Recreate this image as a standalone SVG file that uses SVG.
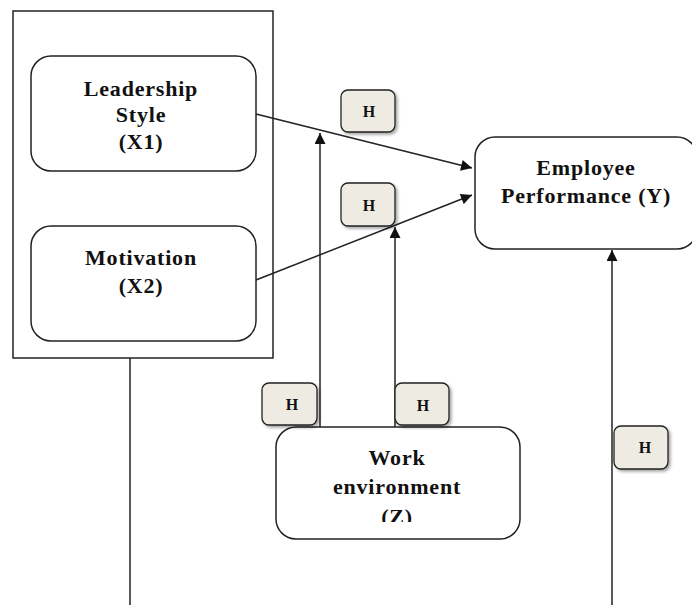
<svg xmlns="http://www.w3.org/2000/svg" width="692" height="605" viewBox="0 0 692 605">
<defs>
<style>
.box{fill:#fff;stroke:#222;stroke-width:1.5}
.hb{fill:#eeebe3;stroke:#222;stroke-width:1.3;filter:url(#sh)}
.t{font-family:"Liberation Serif",serif;font-weight:bold;font-size:22px;letter-spacing:0.8px;fill:#111;text-anchor:middle}
.h{font-family:"Liberation Serif",serif;font-weight:bold;font-size:16px;fill:#111;text-anchor:middle}
.ln{stroke:#222;stroke-width:1.5;fill:none}
</style>
<marker id="ah" viewBox="0 0 10 10" refX="10" refY="5" markerWidth="12" markerHeight="11" markerUnits="userSpaceOnUse" orient="auto">
<path d="M0,0 L10,5 L0,10 z" fill="#111"/>
</marker>
<filter id="sh" x="-20%" y="-20%" width="150%" height="150%">
<feDropShadow dx="2" dy="2" stdDeviation="1.5" flood-color="#000" flood-opacity="0.35"/>
</filter>
<clipPath id="wclip"><rect x="276" y="427" width="244" height="95"/></clipPath>
</defs>
<rect width="692" height="605" fill="#fff"/>
<g id="connectors">
<line class="ln" x1="256" y1="114" x2="472" y2="168" marker-end="url(#ah)"/>
<line class="ln" x1="256" y1="280" x2="472" y2="195" marker-end="url(#ah)"/>
<line class="ln" x1="320" y1="427" x2="320" y2="133" marker-end="url(#ah)"/>
<line class="ln" x1="395" y1="427" x2="395" y2="227" marker-end="url(#ah)"/>
<line class="ln" x1="612" y1="605" x2="612" y2="250" marker-end="url(#ah)"/>
<line class="ln" x1="130" y1="358" x2="130" y2="605"/>
</g>
<g id="group-x">
<rect x="13" y="11" width="260" height="347" fill="none" stroke="#222" stroke-width="1.5"/>
</g>
<g id="leadership">
<rect class="box" x="31" y="56" width="225" height="115" rx="20"/>
<text class="t" x="141" y="96">Leadership</text>
<text class="t" x="141" y="122">Style</text>
<text class="t" x="141" y="149">(X1)</text>
</g>
<g id="motivation">
<rect class="box" x="31" y="226" width="225" height="115" rx="20"/>
<text class="t" x="141" y="265">Motivation</text>
<text class="t" x="141" y="293">(X2)</text>
</g>
<g id="employee">
<rect class="box" x="475" y="137" width="222" height="112" rx="20"/>
<text class="t" x="586" y="175">Employee</text>
<text class="t" x="586" y="203">Performance (Y)</text>
</g>
<g id="work">
<rect class="box" x="276" y="427" width="244" height="112" rx="20"/>
<g clip-path="url(#wclip)">
<text class="t" x="397" y="465">Work</text>
<text class="t" x="397" y="494">environment</text>
<text class="t" x="397" y="524">(Z)</text>
</g>
</g>
<g id="h1"><rect class="hb" x="341" y="90" width="54" height="42" rx="7"/><text class="h" x="369" y="117">H</text></g>
<g id="h2"><rect class="hb" x="341" y="183" width="54" height="43" rx="7"/><text class="h" x="369" y="211">H</text></g>
<g id="h3"><rect class="hb" x="262" y="383" width="55" height="42" rx="7"/><text class="h" x="292" y="410">H</text></g>
<g id="h4"><rect class="hb" x="395" y="383" width="54" height="42" rx="7"/><text class="h" x="423" y="411">H</text></g>
<g id="h5"><rect class="hb" x="614" y="426" width="54" height="43" rx="7"/><text class="h" x="645" y="453">H</text></g>
</svg>
